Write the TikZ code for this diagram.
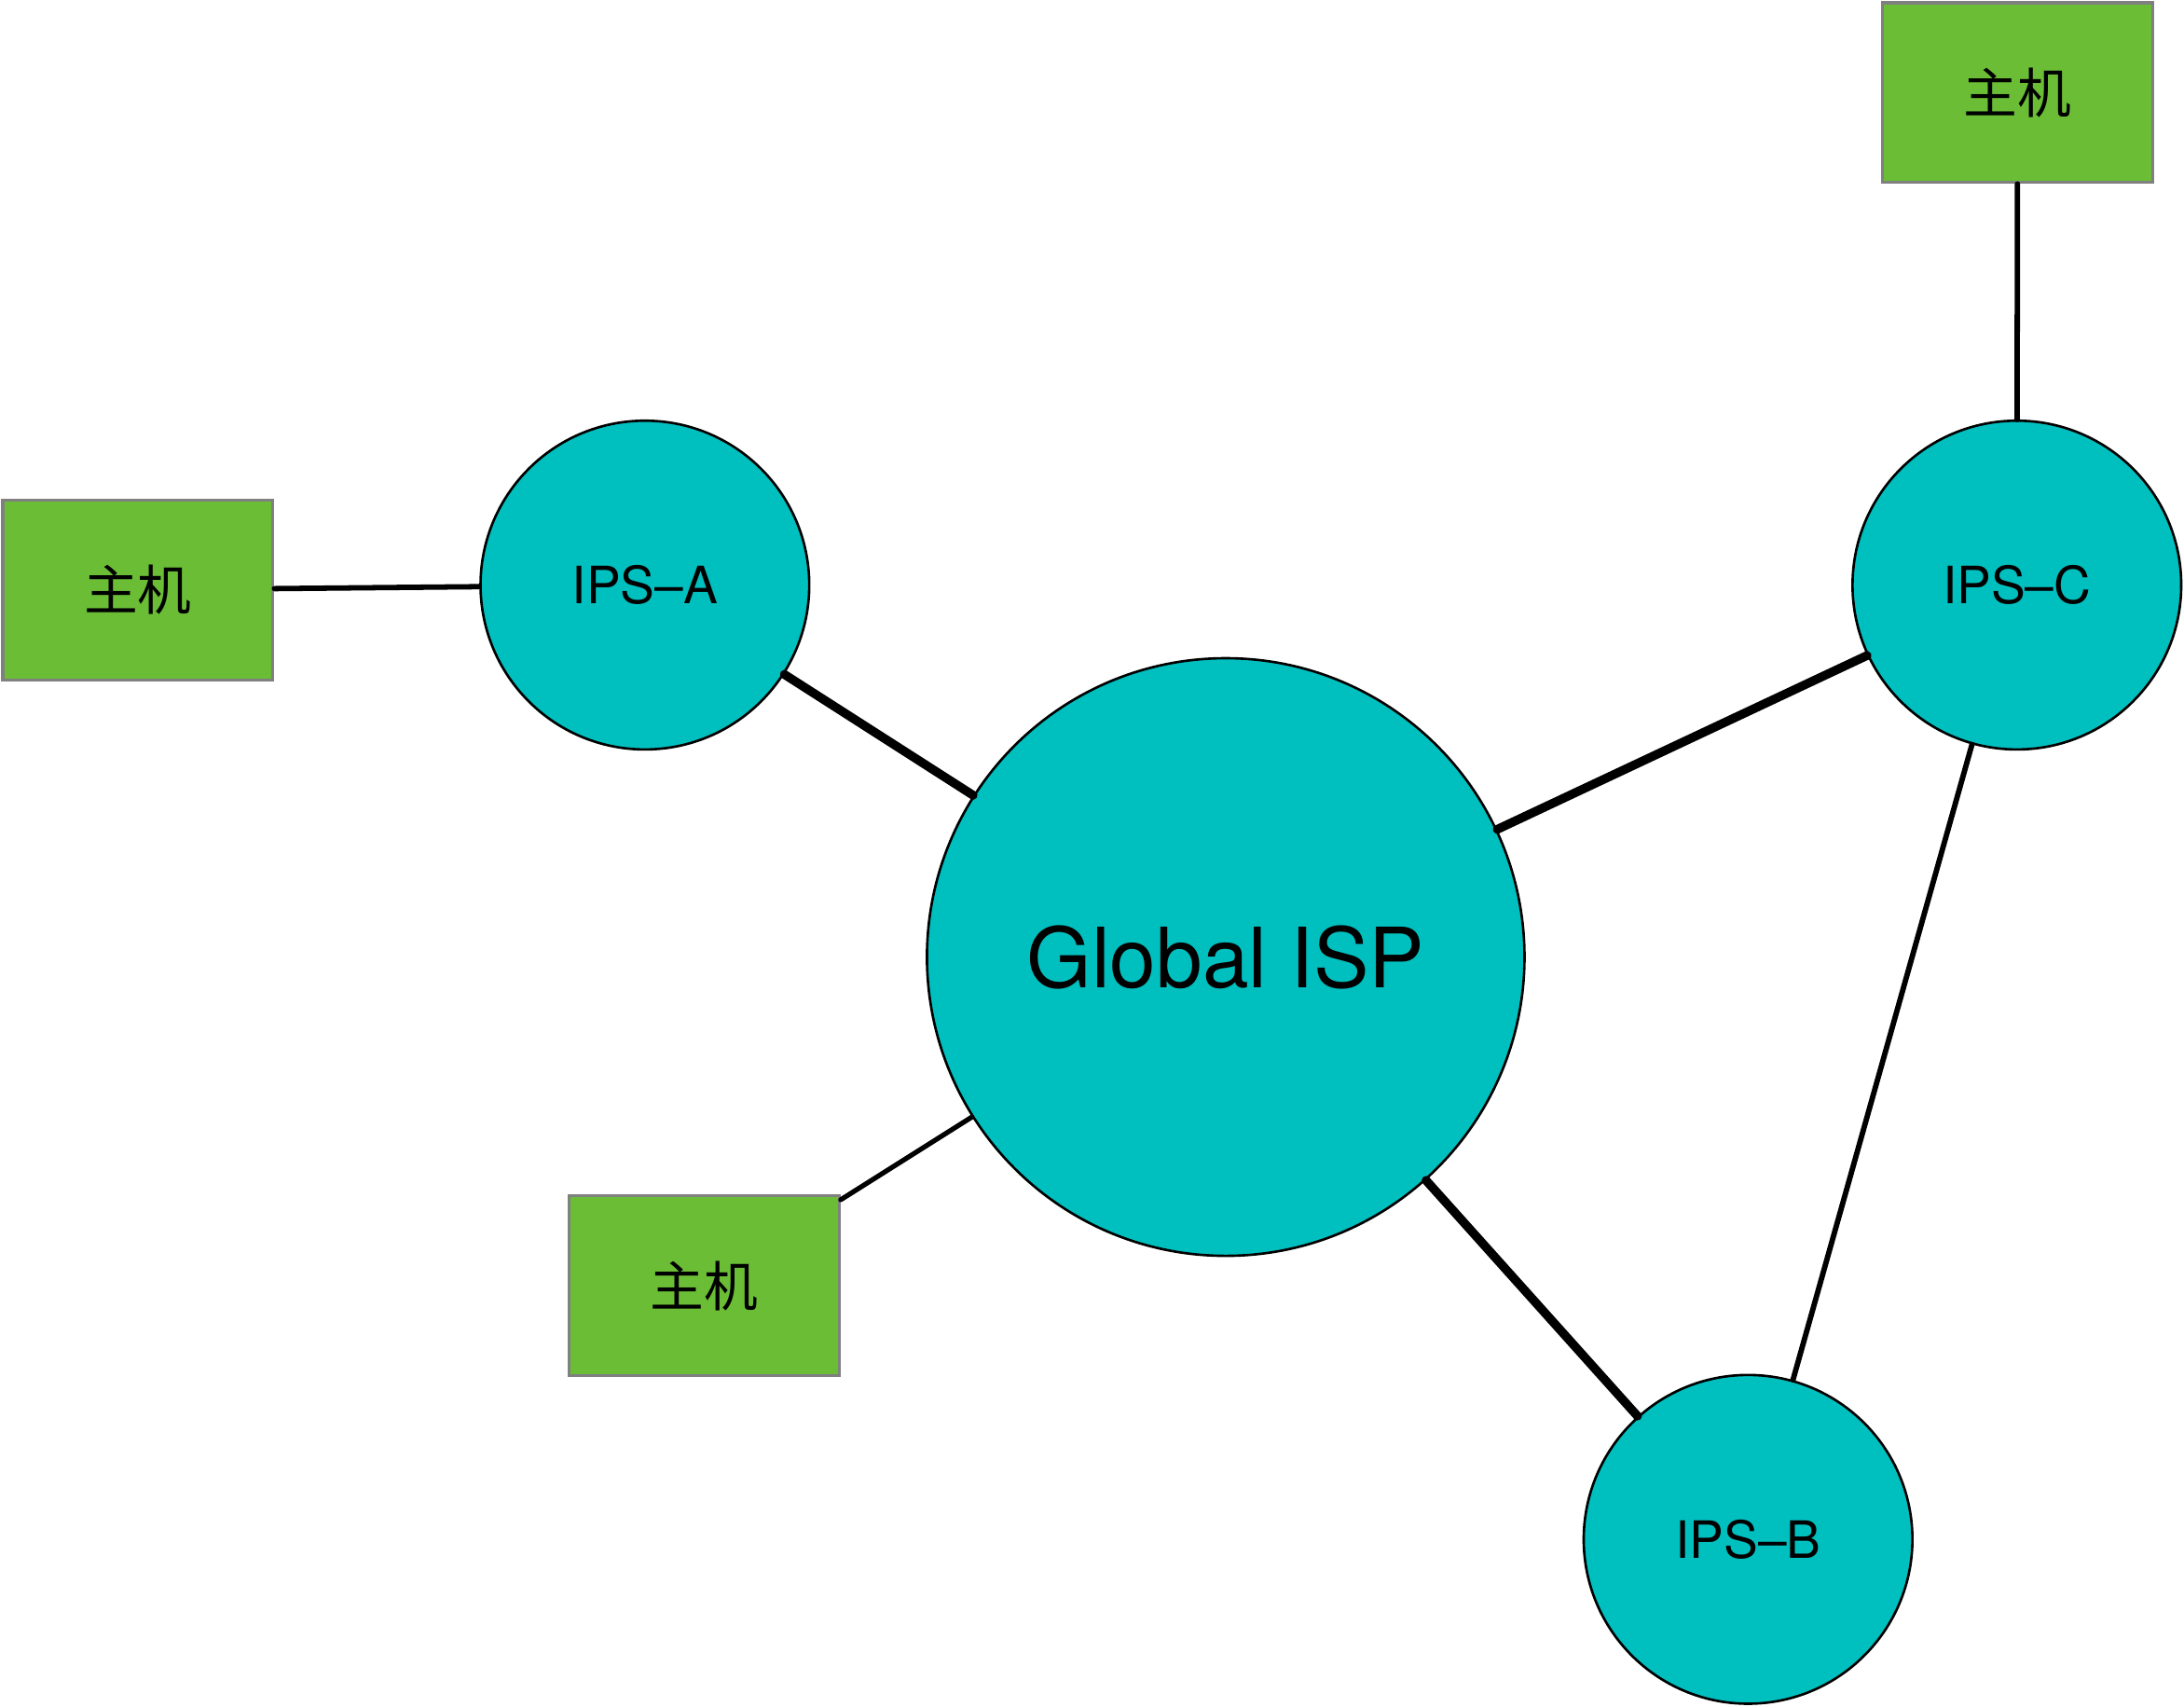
\documentclass[tikz,border=0pt]{standalone}
\usepackage{fontspec}
\setmainfont{TeX Gyre Heros}
\newfontfamily\cjk{Noto Sans CJK SC}
\usepackage{tikz}
\usetikzlibrary{positioning}
\definecolor{ispcyan}{HTML}{00BFBF}
\definecolor{hostgreen}{HTML}{6ABD35}
\definecolor{hostgray}{HTML}{808080}

\tikzset{
  isp/.style={circle, draw=black, line width=0.5pt, fill=ispcyan, inner sep=0pt, minimum size=2.36cm, font=\fontsize{10.5}{12}\selectfont},
  bigisp/.style={isp, minimum size=4.29cm, font=\fontsize{17}{20}\selectfont},
  host/.style={rectangle, draw=hostgray, line width=0.6pt, fill=hostgreen, minimum width=1.94cm, minimum height=1.29cm, font=\cjk\fontsize{11}{13}\selectfont},
  link/.style={draw=black, line width=1.1pt, line cap=round},
  trunk/.style={draw=black, line width=1.8pt, line cap=round}
}

\begin{document}
\begin{tikzpicture}

\useasboundingbox (0,0) rectangle (15.68,-12.25);

\node[bigisp] (g) at (8.80,-6.87) {Global ISP};

\node[isp] (a) at (4.63,-4.20) {IPS–A};
\node[isp] (c) at (14.48,-4.20) {IPS–C};
\node[isp] (b) at (12.55,-11.05) {IPS–B};

\node[host] (ha) at (0.99,-4.235) {主机};
\node[host] (hc) at (14.485,-0.665) {主机};
\node[host] (hg) at (5.055,-9.23) {主机};

% links
\path[link] (ha) -- (a);
\path[link] (hc) -- (c);
\path[link, line width=1pt] (hg) -- (g);
\path[link] (c) -- (b);

\path[trunk] (a) -- (g);
\path[trunk] (g) -- (c);
\path[trunk] (g) -- (b);

\end{tikzpicture}
\end{document}
